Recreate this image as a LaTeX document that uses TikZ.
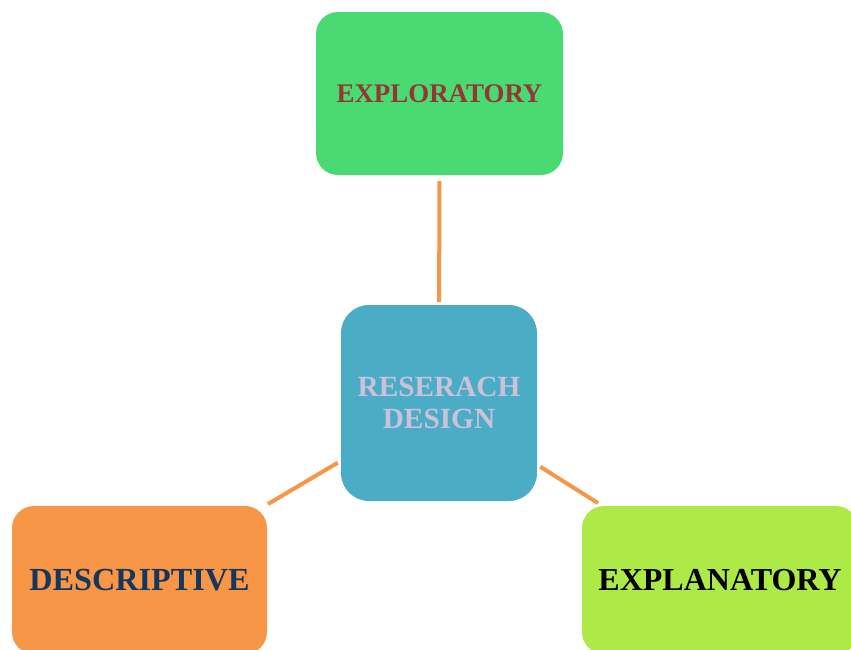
\documentclass[tikz,border=0pt]{standalone}
\usepackage{fontspec}
\setmainfont{Liberation Serif}
\begin{document}
\begin{tikzpicture}[x=1pt,y=-1pt,
  box/.style={inner sep=0pt, align=center, font=\bfseries},
  conn/.style={draw=linkorange, line width=4pt}]
\definecolor{linkorange}{HTML}{F79646}
\definecolor{exfill}{HTML}{4ADA73}
\definecolor{extext}{HTML}{943634}
\definecolor{cfill}{HTML}{4BACC6}
\definecolor{ctext}{HTML}{CCC0DA}
\definecolor{dfill}{HTML}{F79646}
\definecolor{dtext}{HTML}{17365D}
\definecolor{plfill}{HTML}{ADEA48}
\useasboundingbox (0,0) rectangle (851,649);
\clip (0,0) rectangle (851,649);
% boxes
\node[box, fill=exfill, rounded corners=22pt, minimum width=247pt, minimum height=163pt,
  text=extext, font=\bfseries\fontsize{26.9}{31}\selectfont] (explo) at (439.5,93.5) {EXPLORATORY};
\node[box, fill=cfill, rounded corners=28pt, minimum width=196pt, minimum height=196pt,
  text=ctext, font=\bfseries\fontsize{29.3}{32}\selectfont] (design) at (439,403) {RESERACH\\DESIGN};
\node[box, fill=dfill, rounded corners=22pt, minimum width=255pt, minimum height=148pt,
  text=dtext, font=\bfseries\fontsize{32.2}{36}\selectfont] (descr) at (139.5,580) {DESCRIPTIVE};
\node[box, fill=plfill, rounded corners=22pt, minimum width=276pt, minimum height=148pt,
  text=black, font=\bfseries\fontsize{32}{36}\selectfont] (expla) at (720,580) {EXPLANATORY};
% connectors
\draw[conn, shorten <=6pt, shorten >=3pt] (explo) -- (design);
\draw[conn, shorten <=3.5pt, shorten >=3.5pt] (design) -- (descr);
\draw[conn, shorten <=3.5pt, shorten >=5pt] (design) -- (expla);
\end{tikzpicture}
\end{document}
